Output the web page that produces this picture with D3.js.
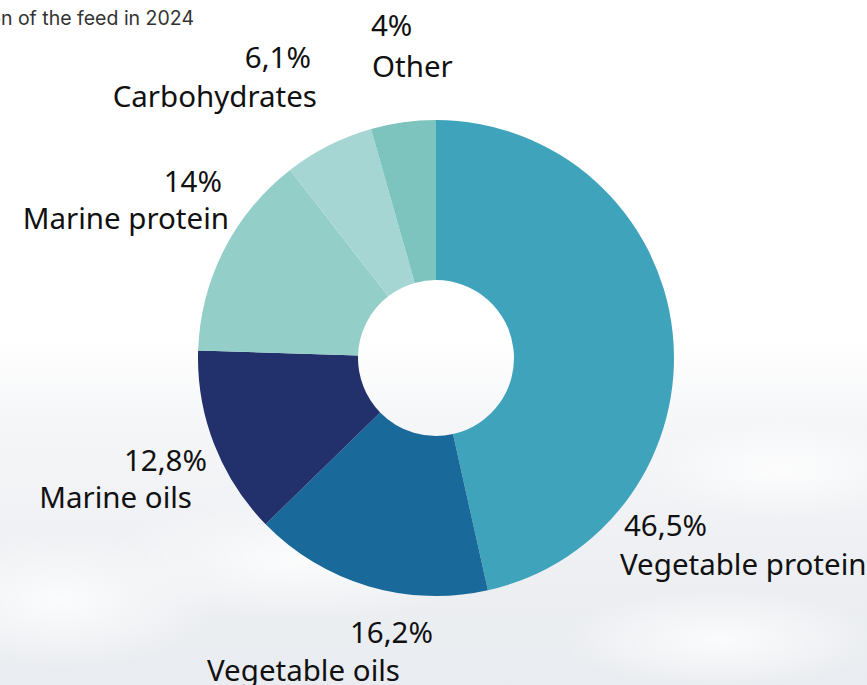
<!DOCTYPE html>
<html><head><meta charset="utf-8">
<script src="https://cdn.jsdelivr.net/npm/d3@7"></script>
<style>html,body{margin:0;padding:0;background:#fff;}svg{display:block;}</style>
</head><body>
<script>
const categories = ["Vegetable protein","Vegetable oils","Marine oils","Marine protein","Carbohydrates","Other"];
const values = [46.5,16.2,12.8,14,6.1,4.4];
const valueLabels = ["46,5%","16,2%","12,8%","14%","6,1%","4%"];
const colors = ["#3fa3bc","#196a9b","#22306b","#93cfc8","#a6d6d3","#7cc4bd"];
const title = "Composition of the feed in 2024";

// label layout: percent line and name line
const labelLayout = {
  "Vegetable protein": {px:624, pa:"start", py:536, nx:620, na:"start", ny:575},
  "Vegetable oils":    {px:433, pa:"end",   py:643, nx:400, na:"end",   ny:681},
  "Marine oils":       {px:207, pa:"end",   py:471, nx:192, na:"end",   ny:508},
  "Marine protein":    {px:222, pa:"end",   py:192, nx:229, na:"end",   ny:229},
  "Carbohydrates":     {px:311, pa:"end",   py:68,  nx:317, na:"end",   ny:107},
  "Other":             {px:371, pa:"start", py:36,  nx:372, na:"start", ny:77}
};

const W=867,H=685;
const svg=d3.select("body").append("svg").attr("width",W).attr("height",H);
const defs=svg.append("defs");
const lg=defs.append("linearGradient").attr("id","bg").attr("x1",0).attr("y1",0).attr("x2",0).attr("y2",1);
[[0,"#ffffff"],[0.5,"#ffffff"],[0.62,"#f5f6f8"],[0.8,"#eef0f3"],[1,"#e9ecf0"]].forEach(s=>lg.append("stop").attr("offset",s[0]).attr("stop-color",s[1]));
svg.append("rect").attr("width",W).attr("height",H).attr("fill","url(#bg)");
const rg=defs.append("radialGradient").attr("id","cloud");
rg.append("stop").attr("offset",0).attr("stop-color","#ffffff").attr("stop-opacity",0.8);
rg.append("stop").attr("offset",1).attr("stop-color","#ffffff").attr("stop-opacity",0);
[[60,600,160,70],[300,560,200,60],[780,470,140,50],[720,640,160,50]].forEach(c=>svg.append("ellipse").attr("cx",c[0]).attr("cy",c[1]).attr("rx",c[2]).attr("ry",c[3]).attr("fill","url(#cloud)"));

svg.append("text").attr("x",194).attr("y",25).attr("text-anchor","end")
  .attr("font-family","Inter, Roboto, sans-serif").attr("font-size",19.5).attr("fill","#333").text(title);

const cx=436, cy=358, R=238, r0=78;
const pie=d3.pie().sort(null).value(d=>d.v);
const arc=d3.arc().innerRadius(r0).outerRadius(R);
const data=categories.map((c,i)=>({c, v:values[i], lab:valueLabels[i], col:colors[i]}));
const g=svg.append("g").attr("transform",`translate(${cx},${cy})`);
g.selectAll("path").data(pie(data)).join("path").attr("d",arc).attr("fill",d=>d.data.col);

const lbl=svg.append("g").attr("font-family","'Source Sans Pro','Noto Sans',sans-serif").attr("font-size",29.5).attr("fill","#111");
data.forEach(d=>{
  const L=labelLayout[d.c];
  lbl.append("text").attr("x",L.px).attr("y",L.py).attr("text-anchor",L.pa).text(d.lab);
  lbl.append("text").attr("x",L.nx).attr("y",L.ny).attr("text-anchor",L.na).text(d.c);
});
</script>
</body></html>
